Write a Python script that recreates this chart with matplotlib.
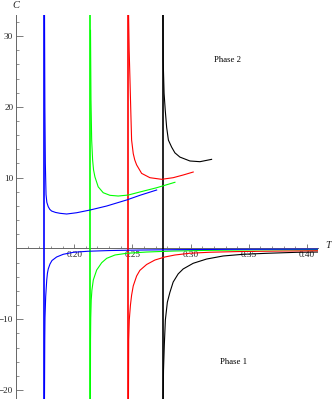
import matplotlib
matplotlib.use("Agg")
import matplotlib.pyplot as plt
from matplotlib.ticker import MultipleLocator, FixedLocator

# asymptote temperatures (vertical lines)
asym_T = {"blue": 0.1743, "lime": 0.2138, "red": 0.2464, "black": 0.2759}

# phase 2 (upper) branches
blue_up_T = [0.1745, 0.1748, 0.1752, 0.1756, 0.1758, 0.1765, 0.1777, 0.1790, 0.1806, 0.1840,
             0.1878, 0.1935, 0.2021, 0.2135, 0.2279, 0.2450, 0.2564, 0.2708]
blue_up_C = [33.0, 20.0, 12.0, 9.0, 7.6, 6.5, 5.89, 5.52, 5.28, 5.08,
             4.96, 4.86, 5.04, 5.42, 5.99, 6.84, 7.50, 8.25]

green_up_T = [0.2140, 0.2144, 0.2150, 0.2158, 0.2166, 0.2178, 0.2206, 0.2249, 0.2307, 0.2378,
              0.2464, 0.2564, 0.2708, 0.2865]
green_up_C = [30.8, 21.0, 15.3, 12.5, 11.1, 10.1, 8.7, 7.87, 7.50, 7.40,
              7.54, 7.97, 8.57, 9.34]

red_up_T = [0.2467, 0.2472, 0.2479, 0.2487, 0.2493, 0.2507, 0.2520, 0.2536, 0.2579, 0.2650,
            0.2751, 0.2850, 0.2936, 0.3022]
red_up_C = [33.0, 28.0, 23.8, 18.8, 15.3, 13.4, 12.5, 11.8, 10.6, 9.99,
            9.76, 9.99, 10.37, 10.79]

black_up_T = [0.2762, 0.2764, 0.2772, 0.2782, 0.2794, 0.2809, 0.2837, 0.2865, 0.2908, 0.2994,
              0.3080, 0.3180]
black_up_C = [33.0, 26.6, 21.9, 19.5, 17.1, 15.3, 14.3, 13.5, 12.9, 12.35,
              12.25, 12.58]

# phase 1 (lower) branches
blue_lo_T = [0.17446, 0.1747, 0.1749, 0.1755, 0.1764, 0.1770, 0.1777, 0.1792, 0.1809, 0.1849,
             0.1906, 0.1992, 0.2118, 0.2307, 0.2564, 0.2908, 0.3337, 0.4092]
blue_lo_C = [-21.3, -12.9, -9.8, -6.8, -4.46, -3.5, -2.9, -2.2, -1.71, -1.21,
             -0.83, -0.55, -0.40, -0.30, -0.23, -0.17, -0.13, -0.10]

green_lo_T = [0.2139, 0.2140, 0.2142, 0.2146, 0.2152, 0.2164, 0.2193, 0.2236, 0.2279, 0.2350,
              0.2450, 0.2622, 0.2850, 0.3165, 0.3594, 0.4092]
green_lo_C = [-21.3, -12.9, -9.8, -7.3, -5.9, -4.46, -3.05, -2.02, -1.40, -0.93,
              -0.69, -0.51, -0.37, -0.27, -0.20, -0.16]

red_lo_T = [0.2466, 0.2468, 0.2473, 0.2483, 0.2493, 0.2507, 0.2536, 0.2564, 0.2622, 0.2693,
            0.2779, 0.2865, 0.2994, 0.3165, 0.3423, 0.3766, 0.4092]
red_lo_C = [-21.3, -12.9, -10.1, -8.0, -6.6, -5.3, -3.9, -3.1, -2.27, -1.64,
            -1.21, -0.93, -0.68, -0.54, -0.44, -0.37, -0.32]

black_lo_T = [0.2764, 0.2767, 0.2774, 0.2783, 0.2800, 0.2822, 0.2850, 0.2893, 0.2936, 0.3022,
              0.3137, 0.3279, 0.3451, 0.3652, 0.3909, 0.4092]
black_lo_C = [-21.3, -17.2, -13.6, -10.1, -7.6, -6.2, -4.75, -3.6, -2.9, -2.10,
              -1.50, -1.07, -0.83, -0.69, -0.55, -0.51]

x_ticks = [0.20, 0.25, 0.30, 0.35, 0.40]
x_labels = ["0.20", "0.25", "0.30", "0.35", "0.40"]
y_ticks = [-20, -10, 10, 20, 30]

plt.rcParams["font.family"] = ["Liberation Serif", "DejaVu Serif"]

fig = plt.figure(figsize=(3.32, 3.99), dpi=100)
ax = fig.add_axes([16 / 332, 0, 302 / 332, 384 / 399])
ax.set_xlim(0.15, 0.4094)
ax.set_ylim(-21.27, 32.97)

branches = [
    ("black", black_up_T, black_up_C, black_lo_T, black_lo_C),
    ("red", red_up_T, red_up_C, red_lo_T, red_lo_C),
    ("lime", green_up_T, green_up_C, green_lo_T, green_lo_C),
    ("blue", blue_up_T, blue_up_C, blue_lo_T, blue_lo_C),
]
for col, ut, uc, lt, lc in branches:
    ax.axvline(asym_T[col], color=col, lw=1.2, zorder=2)
    ax.plot(ut, uc, color=col, lw=0.8, zorder=3)
    ax.plot(lt, lc, color=col, lw=0.8, zorder=3)

for s in ["top", "right"]:
    ax.spines[s].set_visible(False)
ax.spines["bottom"].set_position(("data", 0))
for s in ["left", "bottom"]:
    ax.spines[s].set_color("#666666")
    ax.spines[s].set_linewidth(0.7)
    ax.spines[s].set_zorder(1)

ax.xaxis.set_major_locator(FixedLocator(x_ticks))
ax.set_xticklabels(x_labels)
ax.xaxis.set_minor_locator(MultipleLocator(0.01))
ax.yaxis.set_major_locator(FixedLocator(y_ticks))
ax.yaxis.set_minor_locator(MultipleLocator(2))
ax.tick_params(axis="x", which="major", direction="in", length=3.2, width=0.6,
               color="#666666", labelsize=6.6, labelcolor="#222222", pad=2)
ax.tick_params(axis="x", which="minor", direction="in", length=1.8, width=0.5, color="#666666")
ax.tick_params(axis="y", which="major", direction="in", length=5, width=0.6,
               color="#666666", labelsize=6.6, labelcolor="#222222", pad=2)
ax.tick_params(axis="y", which="minor", direction="in", length=2.2, width=0.5, color="#666666")
ax.patch.set_alpha(0)

fig.text(16 / 332, 1 - 6 / 399, "C", style="italic", fontsize=7.5, ha="center", va="center", color="#222222")
fig.text(328 / 332, 1 - 246 / 399, "T", style="italic", fontsize=7.5, ha="center", va="center", color="#222222")
ax.text(0.3317, 26.6, "Phase 2", fontsize=6.3, ha="center", va="center")
ax.text(0.3365, -16.1, "Phase 1", fontsize=6.3, ha="center", va="center")

fig.savefig("out.png", dpi=100)
